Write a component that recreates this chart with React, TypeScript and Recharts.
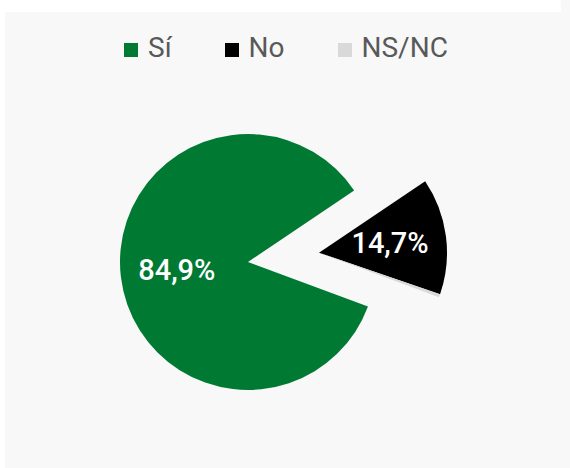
import React from 'react';
import { PieChart, Pie, Cell, Legend } from 'recharts';

const categories = ['Sí', 'No', 'NS/NC'];
const values = [84.9, 14.7, 0.4];
const colors = ['#007a33', '#000000', '#d9d9d9'];
const labelText = ['84,9%', '14,7%', '0,4%'];

const data = categories.map((name, i) => ({ name, value: values[i] }));

const FONT = 'Roboto, "DejaVu Sans", sans-serif';
const RAD = Math.PI / 180;
const LEGEND_H = 28;

const makeLabel = (showIndex: number) => (props: any) => {
  const { index, midAngle, outerRadius, cx, cy } = props;
  if (index !== showIndex) return null;
  const r = (outerRadius || 128) * 0.56;
  const x = cx + r * Math.cos(-midAngle * RAD);
  const y = cy + r * Math.sin(-midAngle * RAD);
  return (
    <text
      x={x}
      y={y}
      fill="#ffffff"
      textAnchor="middle"
      dominantBaseline="central"
      style={{ fontFamily: FONT, fontSize: 29, fontWeight: 500 }}
    >
      {labelText[index]}
    </text>
  );
};

const CustomLegend = () => (
  <div
    style={{
      display: 'flex',
      alignItems: 'flex-start',
      paddingLeft: 124,
      height: LEGEND_H,
      fontFamily: FONT,
      fontSize: 28,
      lineHeight: '28px',
      color: '#595959',
    }}
  >
    {categories.map((c, i) => (
      <div key={c} style={{ display: 'flex', alignItems: 'flex-start', marginRight: i < categories.length - 1 ? 53 : 0 }}>
        <div style={{ width: 14, height: 14, background: colors[i], marginTop: 9, marginRight: 10 }} />
        <span>{c}</span>
      </div>
    ))}
  </div>
);

export default function App() {
  return (
    <div style={{ position: 'absolute', left: 0, top: 0, width: 570, height: 468, background: '#ffffff' }}>
      <div style={{ position: 'absolute', left: 5, top: 12, width: 565, height: 456, background: '#f8f8f8' }} />
      <div style={{ position: 'absolute', left: 561, top: 0, width: 9, height: 12, background: '#f8f8f8' }} />
      <div style={{ position: 'absolute', left: 0, top: 0 }}>
        <PieChart width={570} height={468} margin={{ top: 0, right: 0, bottom: 0, left: 0 }}>
          <Legend
            verticalAlign="top"
            content={() => <CustomLegend />}
            wrapperStyle={{ position: 'absolute', top: 34, left: 0, width: 570, height: LEGEND_H }}
          />
          <Pie
            data={data}
            dataKey="value"
            nameKey="name"
            cx={248}
            cy={262 - LEGEND_H}
            outerRadius={128}
            startAngle={339.6}
            endAngle={-20.4}
            stroke="none"
            isAnimationActive={false}
            labelLine={false}
            label={makeLabel(0)}
            legendType="none"
          >
            {data.map((d, i) => (
              <Cell key={d.name} fill={i === 0 ? colors[i] : 'transparent'} />
            ))}
          </Pie>
          <Pie
            data={data}
            dataKey="value"
            nameKey="name"
            cx={319}
            cy={252.7 - LEGEND_H}
            outerRadius={128}
            startAngle={339.6}
            endAngle={-20.4}
            stroke="none"
            isAnimationActive={false}
            labelLine={false}
            label={makeLabel(1)}
            legendType="none"
          >
            {data.map((d, i) => (
              <Cell key={d.name} fill={i === 0 ? 'transparent' : colors[i]} />
            ))}
          </Pie>
        </PieChart>
      </div>
    </div>
  );
}
